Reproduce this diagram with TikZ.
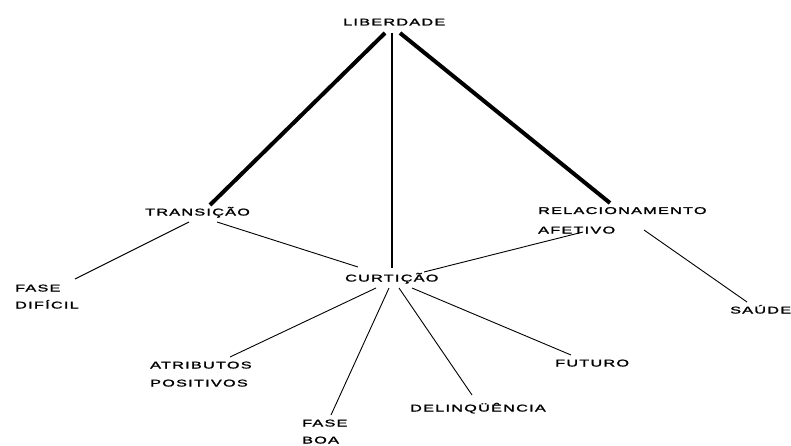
\documentclass[tikz,border=0pt]{standalone}
\usepackage{fontspec}
\setmainfont{Liberation Sans}[FakeBold=1.4, LetterSpace=8]
\usetikzlibrary{calc}
\newcommand{\wideT}[1]{\scalebox{1.65}[1]{#1}}
\begin{document}
\begin{tikzpicture}[x=1pt,y=-1pt,
  lbl/.style={anchor=base west, inner sep=0pt, font=\fontsize{9.8}{12}\selectfont},
  heavy/.style={line width=4pt},
  mid/.style={line width=2pt},
  thin/.style={line width=0.9pt}]
\useasboundingbox[fill=white] (0,0) rectangle (791,446);
% labels
\node[lbl] (lib)    at (343,25.5)  {\wideT{LIBERDADE}};
\node[lbl] (trans)  at (145,215.5) {\wideT{TRANSIÇÃO}};
\node[lbl] (rel)    at (538,214)   {\wideT{RELACIONAMENTO}};
\node[lbl] (afet)   at (538,233.5) {\wideT{AFETIVO}};
\node[lbl] (curt)   at (345,281.5) {\wideT{CURTIÇÃO}};
\node[lbl] (fase1)  at (15,291.5)  {\wideT{FASE}};
\node[lbl] (dif)    at (15,308.5)  {\wideT{DIFÍCIL}};
\node[lbl] (saude)  at (730,313.5) {\wideT{SAÚDE}};
\node[lbl] (atr)    at (150,368.5) {\wideT{ATRIBUTOS}};
\node[lbl] (pos)    at (150,386.5) {\wideT{POSITIVOS}};
\node[lbl] (fase2)  at (302,426.5) {\wideT{FASE}};
\node[lbl] (boa)    at (302,443.5) {\wideT{BOA}};
\node[lbl] (delinq) at (410,411.5) {\wideT{DELINQÜÊNCIA}};
\node[lbl] (fut)    at (555,366.5) {\wideT{FUTURO}};
% connectors
\draw[heavy] ($(lib.base west)+(42,7.5)$) -- ($(trans.base west)+(65,-10.5)$);
\draw[mid]   ($(lib.base west)+(49,7.5)$) -- ($(curt.base west)+(47,-13.5)$);
\draw[heavy] ($(lib.base west)+(57,7.5)$) -- ($(rel.base west)+(72,-11)$);
\draw[thin] ($(trans.base west)+(44,6.5)$) -- ($(fase1.base west)+(60,-12.5)$);
\draw[thin] ($(trans.base west)+(72,6.5)$) -- ($(curt.base west)+(13,-14.5)$);
\draw[thin] ($(afet.base west)+(45,-1.5)$) -- ($(curt.base west)+(79,-9.5)$);
\draw[thin] ($(afet.base west)+(106,-3.5)$) -- ($(saude.base west)+(17,-11.5)$);
\draw[thin] ($(curt.base west)+(31,6.5)$) -- ($(atr.base west)+(80,-11.5)$);
\draw[thin] ($(curt.base west)+(44,6.5)$) -- ($(fase2.base west)+(29,-11.5)$);
\draw[thin] ($(curt.base west)+(54,6.5)$) -- ($(delinq.base west)+(62,-16.5)$);
\draw[thin] ($(curt.base west)+(67,6.5)$) -- ($(fut.base west)+(16,-11.5)$);
\end{tikzpicture}
\end{document}
